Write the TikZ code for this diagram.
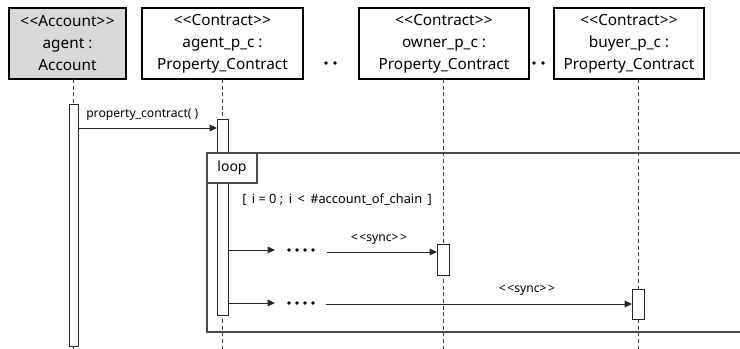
\documentclass[tikz,border=0pt]{standalone}
\usepackage{fontspec}
\setmainfont{Noto Sans}
\usetikzlibrary{arrows.meta}
\newcommand\dlt{<\kern0.3pt<}
\newcommand\dgt{>\kern0.3pt>}
\newcommand\slt{<\kern1.2pt<}
\newcommand\sgt{>\kern1.2pt>}
\begin{document}
\begin{tikzpicture}[x=0.75pt,y=-0.75pt,
  hdr/.style={draw=black,line width=0.95pt,inner sep=0pt,minimum height=53.25pt,align=center,
    font=\fontsize{11.5}{16.5}\selectfont},
  lifeline/.style={draw=black!75,line width=0.6pt,dash pattern=on 3pt off 2pt},
  act/.style={draw=black!85,fill=white,line width=0.7pt},
  msg/.style={draw=black!85,line width=0.7pt,-{Triangle[length=5.5pt,width=5pt]}},
  small/.style={font=\fontsize{9.1}{10}\selectfont,inner sep=0pt},
  frame/.style={draw=black!70,line width=0.95pt},
  dotty/.style={fill=black}]
\useasboundingbox (0,0) rectangle (740,349);
% header boxes
\node[hdr,fill=black!15,minimum width=87.75pt] (A) at (67.5,43.5) {\dlt Account\dgt\\agent :\\Account};
\node[hdr,fill=white,minimum width=120.75pt] (B) at (222.5,43.5) {\dlt Contract\dgt\\agent\_p\_c :\\Property\_Contract};
\node[hdr,fill=white,minimum width=127.5pt] (C) at (444,43.5) {\dlt Contract\dgt\\owner\_p\_c :\\Property\_Contract};
\node[hdr,fill=white,minimum width=112.5pt] (D) at (629,43.5) {\dlt Contract\dgt\\buyer\_p\_c :\\Property\_Contract};
% header dots
\fill[dotty] (326,63) circle (1.8) (335,63) circle (1.8);
\fill[dotty] (534,63) circle (1.8) (543,63) circle (1.8);
% lifeline anchors
\coordinate (Atop) at (73,79);   \coordinate (Abot) at (73,349);
\coordinate (Btop) at (222,79);  \coordinate (Bbot) at (222,349);
\coordinate (Ctop) at (443,79);  \coordinate (Cbot) at (443,349);
\coordinate (Dtop) at (638,79);  \coordinate (Dbot) at (638,349);
\draw[lifeline] (Atop) -- (Abot);
\draw[lifeline] (Btop) -- (Bbot);
\draw[lifeline] (Ctop) -- (Cbot);
\draw[lifeline] (Dtop) -- (Dbot);
% loop frame
\coordinate (F1) at (741,153);
\coordinate (F2) at (207,153);
\coordinate (F3) at (207,332);
\coordinate (F4) at (741,332);
\draw[frame] (F1) -- (F2) -- (F3) -- (F4);
% activations
\draw[act] (69,104) rectangle (78,346);
\coordinate (Aact) at (78,128);
\draw[act] (217,119) rectangle (228,315);
\coordinate (Bact) at (217,128);
\draw[act] (437,244) rectangle (449,275);
\coordinate (Cact) at (437,252);
\draw[act] (632,289) rectangle (644,319);
\coordinate (Dact) at (632,304);
% loop tab
\node[draw=black!70,line width=0.95pt,fill=white,minimum width=37.5pt,minimum height=22.5pt,inner sep=0pt,
  font=\fontsize{10.5}{12}\selectfont] (tab) at (232,168) {loop};
\node[small,anchor=west,font=\fontsize{9.6}{11}\selectfont] (guard) at (242,200) {[\, i = 0 ;\, i \,<\, \#account\_of\_chain\, ]};
% call message
\node[small,anchor=west] (pc) at (86,115) {property\_contract( )};
\draw[msg] (Aact) -- (Bact);
% loop messages
\coordinate (m1s) at (228,250); \coordinate (m1e) at (275,250);
\draw[msg] (m1s) -- (m1e);
\fill[dotty] (289,250) circle (1.8) (297,250) circle (1.8) (305,250) circle (1.8) (313,250) circle (1.8);
\coordinate (m2s) at (327,252);
\draw[msg] (m2s) -- (Cact);
\node[small] (s1) at (379,239) {\slt sync\sgt};
\coordinate (m3s) at (228,303); \coordinate (m3e) at (275,303);
\draw[msg] (m3s) -- (m3e);
\fill[dotty] (289,303) circle (1.8) (297,303) circle (1.8) (305,303) circle (1.8) (313,303) circle (1.8);
\coordinate (m4s) at (326,304);
\draw[msg] (m4s) -- (Dact);
\node[small] (s2) at (527,290) {\slt sync\sgt};
\end{tikzpicture}
\end{document}
